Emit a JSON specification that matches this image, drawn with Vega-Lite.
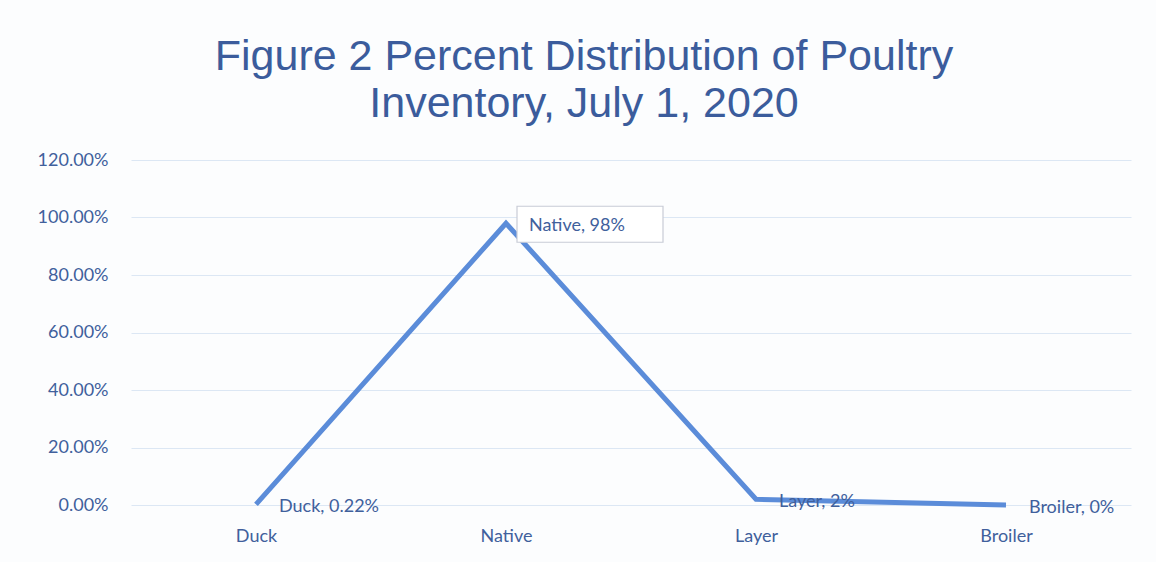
{
  "$schema": "https://vega.github.io/schema/vega-lite/v6.json",
  "autosize": "none",
  "width": 1000,
  "height": 345,
  "padding": {"left": 131, "top": 160, "right": 25, "bottom": 57},
  "background": "#fcfdfe",
  "title": {
    "text": ["Figure 2 Percent Distribution of Poultry", "Inventory, July 1, 2020"],
    "font": "Liberation Sans",
    "fontSize": 43,
    "fontWeight": "normal",
    "color": "#3b5c9c",
    "anchor": "middle",
    "dx": -47,
    "offset": 25,
    "lineHeight": 47
  },
  "data": {
    "values": [
      {"type": "Duck", "pct": 0.0022, "label": "Duck, 0.22%"},
      {"type": "Native", "pct": 0.98, "label": "Native, 98%"},
      {"type": "Layer", "pct": 0.02, "label": "Layer, 2%"},
      {"type": "Broiler", "pct": 0.0, "label": "Broiler, 0%"}
    ]
  },
  "encoding": {
    "x": {
      "field": "type",
      "type": "nominal",
      "sort": null,
      "scale": {"paddingInner": 0, "paddingOuter": 0},
      "axis": {
        "title": null,
        "labelAngle": 0,
        "domain": false,
        "ticks": false,
        "grid": false,
        "labelFont": "Lato",
        "labelFontSize": 18,
        "labelColor": "#40609c",
        "labelPadding": 22
      }
    },
    "y": {
      "field": "pct",
      "type": "quantitative",
      "scale": {"domain": [0, 1.2]},
      "axis": {
        "title": null,
        "format": ".2%",
        "values": [0, 0.2, 0.4, 0.6, 0.8, 1.0, 1.2],
        "domain": false,
        "ticks": false,
        "gridColor": "#dce7f4",
        "gridWidth": 1,
        "labelFont": "Lato",
        "labelFontSize": 18,
        "labelColor": "#40609c",
        "labelPadding": 23
      }
    }
  },
  "layer": [
    {
      "mark": {"type": "line", "color": "#5b8cd9", "strokeWidth": 5, "strokeJoin": "miter"}
    },
    {
      "transform": [{"filter": "datum.type === 'Native'"}],
      "mark": {
        "type": "point",
        "shape": "M2.2,-3.4 L31.4,-3.4 L31.4,3.8 L2.2,3.8 Z",
        "size": 100,
        "filled": true,
        "fill": "#ffffff",
        "stroke": "#c8ccd6",
        "strokeWidth": 1.2,
        "opacity": 1
      }
    },
    {
      "mark": {
        "type": "text",
        "align": "left",
        "baseline": "middle",
        "dx": 23,
        "dy": 3,
        "font": "Lato",
        "fontSize": 18,
        "color": "#40609c"
      },
      "encoding": {"text": {"field": "label"}}
    }
  ],
  "config": {"view": {"stroke": null}}
}
